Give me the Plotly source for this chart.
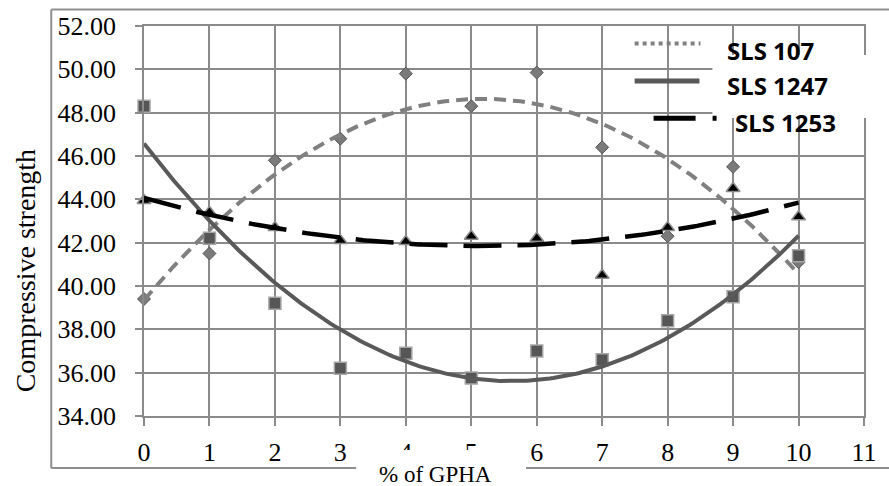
import numpy as np
import plotly.graph_objects as go

# ---- data ----
pct_gpha = [0, 1, 2, 3, 4, 5, 6, 7, 8, 9, 10]
sls107 = [39.4, 41.5, 45.8, 46.8, 49.8, 48.3, 49.85, 46.4, 42.3, 45.5, 41.1]
sls1247 = [48.3, 42.2, 39.2, 36.2, 36.9, 35.75, 37.0, 36.6, 38.4, 39.5, 41.4]
sls1253 = [43.95, 43.4, 42.7, 42.1, 42.05, 42.3, 42.2, 40.5, 42.7, 44.5, 43.2]
series_names = ["SLS 107", "SLS 1247", "SLS 1253"]
x_tick_vals = list(range(0, 12))
y_tick_vals = [34, 36, 38, 40, 42, 44, 46, 48, 50, 52]
y_tick_text = ["%.2f" % v for v in y_tick_vals]

# ---- geometry (pixels) ----
W, H = 889, 486
L, R, T, B = 144, 866, 26, 416


def px(x):
    return (x - L) / (R - L)


def py(y):
    return (B - y) / (B - T)


GRID = "#8a8a8a"

fig = go.Figure()

# markers
fig.add_trace(go.Scatter(x=pct_gpha, y=sls107, mode="markers", name=series_names[0],
                         cliponaxis=False,
                         marker=dict(symbol="diamond", size=10, color="#7a7a7a",
                                     line=dict(color="#555555", width=1))))
fig.add_trace(go.Scatter(x=pct_gpha, y=sls1247, mode="markers", name=series_names[1],
                         cliponaxis=False,
                         marker=dict(symbol="square", size=12, color="#565656",
                                     line=dict(color="#a6a6a6", width=1.5))))
fig.add_trace(go.Scatter(x=pct_gpha, y=sls1253, mode="markers", name=series_names[2],
                         cliponaxis=False,
                         marker=dict(symbol="triangle-up", size=12, color="#000000",
                                     line=dict(color="#8c8c8c", width=1.5))))

# polynomial (order 2) trendlines fitted to the data, as in the original chart
xs = np.linspace(min(pct_gpha), max(pct_gpha), 201)
styles = [
    (sls107, "#808080", 4, "12px,7px"),
    (sls1247, "#595959", 4, "solid"),
    (sls1253, "#000000", 4.5, "38px,16px"),
]
for (vals, col, w, dash), nm in zip(styles, series_names):
    coef = np.polyfit(pct_gpha, vals, 2)
    fig.add_trace(go.Scatter(x=xs, y=np.polyval(coef, xs), mode="lines",
                             name=nm + " trend", cliponaxis=False,
                             line=dict(color=col, width=w, dash=dash)))

shapes = []
# outer chart border (bottom edge interrupted by the axis-title box)
bc = "#8f8f8f"
for (x0, y0, x1, y1) in [(51, 9.5, 900, 9.5), (51, 9.5, 51, 468),
                         (51, 468, 357, 468), (527, 468, 900, 468)]:
    shapes.append(dict(type="line", xref="paper", yref="paper",
                       x0=px(x0), y0=py(y0), x1=px(x1), y1=py(y1),
                       line=dict(color=bc, width=2), layer="above"))
# white box of the x-axis title (clips tick labels 4 and 5)
shapes.append(dict(type="rect", xref="paper", yref="paper",
                   x0=px(357), x1=px(527), y0=py(450), y1=py(490),
                   fillcolor="white", line=dict(width=0), layer="above"))
# white box behind legend texts
shapes.append(dict(type="rect", xref="paper", yref="paper",
                   x0=px(714), x1=px(880), y0=py(55), y1=py(118),
                   fillcolor="white", line=dict(width=0), layer="above"))
# legend samples
shapes.append(dict(type="line", xref="paper", yref="paper",
                   x0=px(636), x1=px(702), y0=py(43.5), y1=py(43.5),
                   line=dict(color="#808080", width=4, dash="dot"), layer="above"))
shapes.append(dict(type="line", xref="paper", yref="paper",
                   x0=px(636), x1=px(701), y0=py(81), y1=py(81),
                   line=dict(color="#595959", width=5), layer="above"))
shapes.append(dict(type="line", xref="paper", yref="paper",
                   x0=px(655), x1=px(719), y0=py(118.3), y1=py(118.3),
                   line=dict(color="#000000", width=5, dash="42px,17px,4px,100px"),
                   layer="above"))

annotations = [
    dict(text=series_names[0], x=px(727), y=py(50), xanchor="left", yanchor="middle"),
    dict(text=series_names[1], x=px(727), y=py(85), xanchor="left", yanchor="middle"),
    dict(text=series_names[2], x=px(735), y=py(122), xanchor="left", yanchor="middle"),
]
for a in annotations:
    a.update(xref="paper", yref="paper", showarrow=False,
             font=dict(family="Noto Sans", size=24, color="black", weight="bold"))
annotations.append(dict(text="% of GPHA", xref="paper", yref="paper",
                        x=px(436.5), y=py(474.5), xanchor="center", yanchor="middle",
                        showarrow=False,
                        font=dict(family="Liberation Serif", size=23, color="black")))
annotations.append(dict(text="Compressive strength", xref="paper", yref="paper",
                        x=px(25), y=py(271), xanchor="center", yanchor="middle",
                        textangle=-90, showarrow=False,
                        font=dict(family="Liberation Serif", size=28, color="black")))

fig.update_layout(
    width=W, height=H,
    margin=dict(l=L, r=W - R, t=T, b=H - B, pad=0),
    paper_bgcolor="white", plot_bgcolor="white",
    showlegend=False,
    shapes=shapes, annotations=annotations,
    font=dict(family="Liberation Serif", size=26, color="black"),
)
fig.update_xaxes(range=[0, 11], tickvals=x_tick_vals, ticktext=[str(v) for v in x_tick_vals],
                 showgrid=True, gridcolor=GRID, gridwidth=1.5,
                 showline=True, linecolor=GRID, linewidth=1.5, mirror=True,
                 ticks="outside", ticklen=8, tickwidth=1.5, tickcolor=GRID,
                 zeroline=False, ticklabelstandoff=4,
                 tickfont=dict(family="Liberation Serif", size=26, color="black"))
fig.update_yaxes(range=[34, 52], tickvals=y_tick_vals, ticktext=y_tick_text,
                 showgrid=True, gridcolor=GRID, gridwidth=1.5,
                 showline=True, linecolor=GRID, linewidth=1.5, mirror=True,
                 ticks="outside", ticklen=7, tickwidth=1.5, tickcolor=GRID,
                 zeroline=False, ticklabelstandoff=14,
                 tickfont=dict(family="Liberation Serif", size=26, color="black"))

fig.write_html("out.html", config={"displayModeBar": False},
               post_script="document.body.style.margin='0';")
